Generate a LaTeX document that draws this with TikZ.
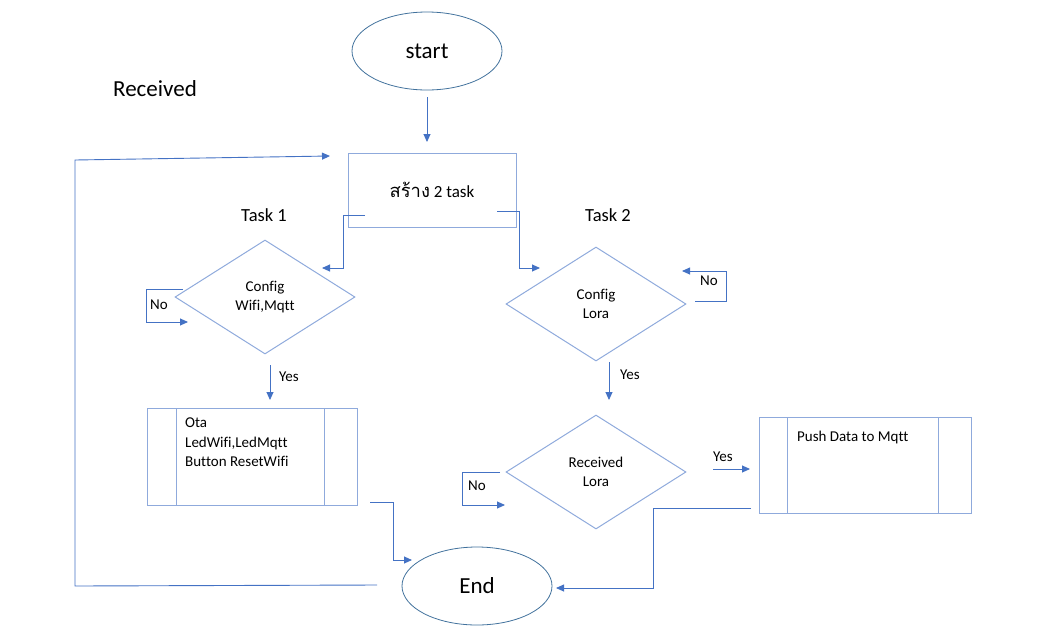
\documentclass[tikz,border=0pt]{standalone}
\usepackage{fontspec}
\setmainfont{Carlito}[Ligatures=NoCommon]
\newfontfamily\thaifont[Script=Thai,Scale=1.08]{Loma}
\usetikzlibrary{shapes.geometric,arrows.meta}
\definecolor{conn}{HTML}{4472C4}
\definecolor{shp}{HTML}{8FAADC}
\definecolor{ell}{HTML}{41719C}
\tikzset{
  cline/.style={draw=conn, line width=0.9pt},
  carrow/.style={cline, -{Triangle[length=8pt,width=7pt]}},
  ovalbox/.style={ellipse, draw=ell, line width=0.8pt, minimum width=150pt, minimum height=78pt, inner sep=0pt, font=\fontsize{23}{27}\selectfont},
  rectbox/.style={rectangle, draw=shp, line width=1pt, inner sep=0pt},
  decbox/.style={diamond, draw=shp, line width=1pt, inner sep=0pt, aspect=1.58, minimum width=180pt, minimum height=114pt, align=center, font=\fontsize{15}{19}\selectfont},
  small/.style={font=\fontsize{15}{18}\selectfont, inner sep=0pt},
  tasklbl/.style={font=\fontsize{18.5}{22}\selectfont, inner sep=0pt},
}
\begin{document}
\begin{tikzpicture}[x=1pt,y=-1pt]
\useasboundingbox (0,0) rectangle (1047,638);
% shapes
\node[ovalbox] (start) at (427,51) {start};
\node[ovalbox] (end) at (477,586) {End};
\node[rectbox, minimum width=168pt, minimum height=74pt, font=\fontsize{17}{20}\selectfont] (create) at (432,190) {{\thaifont สร้าง} 2 task};
\node[decbox] (d1) at (265,297) {\rule{0pt}{6pt}Config\\Wifi,Mqtt};
\node[decbox] (d2) at (596,304) {Config\\Lora};
\node[decbox] (d3) at (596,472) {Received\\Lora};
\node[rectbox, minimum width=210pt, minimum height=97pt] (box1) at (252,456.5) {};
\draw[draw=shp, line width=1pt] (176,408) -- (176,505) (324,408) -- (324,505);
\node[small, anchor=north west, align=left, font=\fontsize{15}{19.5}\selectfont] (box1text) at (185,418) {Ota\\LedWifi,LedMqtt\\Button ResetWifi};
\node[rectbox, minimum width=212pt, minimum height=96pt] (box3) at (865,465) {};
\draw[draw=shp, line width=1pt] (787,417) -- (787,513) (938,417) -- (938,513);
\node[small, anchor=west] (box3text) at (797,437) {Push Data to Mqtt};
% labels
\node[font=\fontsize{23}{27}\selectfont, inner sep=0pt] (recv) at (155,89) {Received};
\node[tasklbl] (t1) at (264,215) {Task 1};
\node[tasklbl] (t2) at (608,215) {Task 2};
\node[small] (no1) at (159,305) {No};
\node[small] (yes1) at (289,377) {Yes};
\node[small] (no2) at (709,281) {No};
\node[small] (yes2) at (630,375) {Yes};
\node[small] (no3) at (477,486) {No};
\node[small] (yes3) at (723,457) {Yes};
% coordinates for free connector ends
\coordinate (s1) at (427,97);
\coordinate (s1e) at (427,142);
\coordinate (c1) at (365,215);
\coordinate (c1e) at (322,268);
\coordinate (c2) at (497,211);
\coordinate (c2e) at (540,268);
\coordinate (n1a) at (183,289);
\coordinate (n1e) at (188,322);
\coordinate (y1a) at (270,365);
\coordinate (y1e) at (270,400);
\coordinate (b1a) at (370,502);
\coordinate (b1e) at (412,560);
\coordinate (n2a) at (695,301);
\coordinate (n2e) at (682,271);
\coordinate (y2a) at (609,362);
\coordinate (y2e) at (609,400);
\coordinate (n3a) at (500,472);
\coordinate (n3e) at (505,505);
\coordinate (y3a) at (713,469);
\coordinate (y3e) at (750,469);
\coordinate (b3a) at (751,508);
\coordinate (b3e) at (556,588);
\coordinate (la) at (377,585);
\coordinate (le) at (330,156);
% connectors
\draw[carrow] (s1) -- (s1e);
\draw[carrow] (c1) -- (343,215) -- (343,268) -- (c1e);
\draw[carrow] (c2) -- (519,211) -- (519,268) -- (c2e);
\draw[carrow] (n1a) -- (146,289) -- (146,322) -- (n1e);
\draw[carrow] (y1a) -- (y1e);
\draw[carrow] (b1a) -- (393,502) -- (393,560) -- (b1e);
\draw[carrow] (n2a) -- (726,301) -- (726,271) -- (n2e);
\draw[carrow] (y2a) -- (y2e);
\draw[carrow] (n3a) -- (462,472) -- (462,505) -- (n3e);
\draw[carrow] (y3a) -- (y3e);
\draw[carrow] (b3a) -- (653,508) -- (653,588) -- (b3e);
\draw[carrow] (la) -- (75,586) -- (75,160) -- (le);
\end{tikzpicture}
\end{document}
